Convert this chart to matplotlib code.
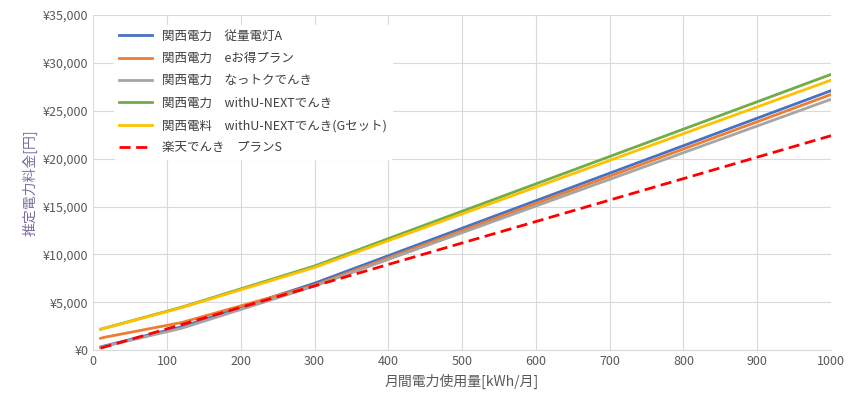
import matplotlib
matplotlib.use('agg')
import matplotlib.pyplot as plt
from matplotlib.ticker import FuncFormatter

plt.rcParams['font.family'] = 'Noto Sans CJK JP'

# 使用量[kWh]と各プランの料金[円]
usage = [10, 15, 120, 300, 1000]
blue_a = [340, 450, 2450, 7000, 27100]
orange_e = [1250, 1350, 2900, 6800, 26700]
gray_nattoku = [300, 400, 2300, 6700, 26200]
green_unext = [2200, 2300, 4500, 8800, 28800]
yellow_unext_g = [2200, 2280, 4450, 8650, 28200]
red_usage = [10, 1000]
red_rakuten = [220, 22400]

labels = ['関西電力　従量電灯A', '関西電力　eお得プラン', '関西電力　なっトクでんき',
          '関西電力　withU-NEXTでんき', '関西電料　withU-NEXTでんき(Gセット)', '楽天でんき　プランS']

fig = plt.figure(figsize=(8.63, 4.16), dpi=100)
ax = fig.add_axes([0.108, 0.158, 0.855, 0.806])

ax.plot(usage, blue_a, color='#4472c4', lw=2, label=labels[0])
ax.plot(usage, orange_e, color='#ed7d31', lw=2, label=labels[1])
ax.plot(usage, gray_nattoku, color='#a5a5a5', lw=2, label=labels[2])
ax.plot(usage, green_unext, color='#70ad47', lw=2, label=labels[3])
ax.plot(usage, yellow_unext_g, color='#ffc000', lw=2, label=labels[4])
ax.plot(red_usage, red_rakuten, color='#ff0000', lw=2, ls=(0, (4, 2)), label=labels[5])

ax.set_xlim(0, 1000)
ax.set_ylim(0, 35000)
ax.set_xticks(range(0, 1001, 100))
ax.set_yticks(range(0, 35001, 5000))
ax.yaxis.set_major_formatter(FuncFormatter(lambda v, p: '¥{:,.0f}'.format(v)))
ax.grid(color='#d9d9d9', lw=0.8)
ax.set_axisbelow(True)
for s in ax.spines.values():
    s.set_visible(False)
ax.spines['bottom'].set_visible(True)
ax.spines['bottom'].set_color('#d9d9d9')
ax.tick_params(length=0, labelsize=9, colors='#595959')

ax.set_xlabel('月間電力使用量[kWh/月]', fontsize=10, color='#595959')
ax.set_ylabel('推定電力料金[円]', fontsize=10, color='#7f6f9f')

leg = ax.legend(loc='upper left', frameon=True, fontsize=9, bbox_to_anchor=(0.02, 0.99),
                handlelength=2.6, labelspacing=0.75)
leg.get_frame().set_edgecolor('white')
leg.get_frame().set_alpha(1)
for t in leg.get_texts():
    t.set_color('#404040')

fig.savefig('out.png')
